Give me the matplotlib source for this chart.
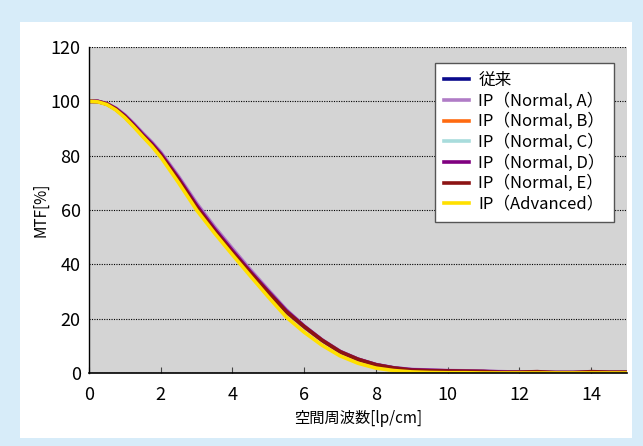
import matplotlib.pyplot as plt
import matplotlib.patches as mpatches

plt.rcParams['font.family'] = ['Noto Sans CJK JP', 'DejaVu Sans']

# spatial frequency [lp/cm]
freq = [0, 0.25, 0.5, 0.75, 1, 1.25, 1.5, 1.75, 2, 2.5, 3, 3.5, 4, 4.5, 5, 5.5, 6, 6.5, 7, 7.5,
        8, 8.5, 9, 9.5, 10, 10.5, 11, 11.5, 12, 12.5, 13, 13.5, 14, 14.5, 15]

# MTF [%]
mtf_conv = [100, 99.9, 99, 97.1, 94.4, 91, 87.4, 84, 80.2, 71, 61, 52.3, 44.3, 36.8, 29.5, 22.5, 17, 12, 7.8, 5,
            3, 1.8, 1.0, 0.8, 0.7, 0.6, 0.5, 0.3, 0.3, 0.3, 0.2, 0.2, 0.3, 0.2, 0.2]
mtf_a = [100, 100, 99.2, 97.5, 95, 91.8, 88.3, 85, 81.3, 72.3, 62.5, 53.8, 45.8, 38, 30.6, 23.3, 17.3, 12.2, 8, 5.1,
         3.1, 1.9, 1.3, 1.1, 0.9, 0.8, 0.6, 0.5, 0.3, 0.3, 0.2, 0.2, 0.3, 0.2, 0.2]
mtf_b = [100, 99.9, 99, 97.1, 94.4, 91, 87.4, 84, 80.2, 71, 61, 52.3, 44.3, 36.8, 29.5, 22.5, 17, 12, 7.8, 5,
         3, 1.8, 1.0, 0.8, 0.7, 0.6, 0.5, 0.3, 0.3, 0.3, 0.2, 0.2, 0.3, 0.2, 0.2]
mtf_c = [100, 99.9, 99, 97.1, 94.4, 91, 87.4, 84, 80.2, 71, 61, 52.3, 44.3, 36.8, 29.5, 22.5, 17, 12, 7.8, 5,
         3, 1.8, 1.0, 0.8, 0.7, 0.6, 0.5, 0.3, 0.3, 0.3, 0.2, 0.2, 0.3, 0.2, 0.2]
mtf_d = [100, 100, 99.1, 97.3, 94.7, 91.4, 87.8, 84.5, 80.7, 71.6, 61.7, 53, 45, 37.3, 30, 22.9, 17.2, 12.1, 7.9, 5.1,
         3.1, 1.9, 1.2, 1.0, 0.8, 0.7, 0.6, 0.4, 0.3, 0.3, 0.2, 0.2, 0.3, 0.2, 0.2]
mtf_e = [100, 99.9, 99, 97.1, 94.4, 91, 87.4, 84, 80.2, 71, 61, 52.3, 44.3, 36.8, 29.5, 22.5, 17, 12, 7.8, 5,
         3, 1.8, 1.0, 0.8, 0.7, 0.6, 0.5, 0.2, 0.3, 0.5, 0.1, 0.1, 0.5, 0.3, 0.3]
mtf_adv = [100, 99.8, 98.8, 96.8, 94, 90.6, 87, 83.5, 79.5, 70, 60, 51.5, 43.5, 35.7, 28, 20.6, 15, 10.2, 6.3, 3.6,
           1.8, 0.9, 0.4, 0.2, 0.1, 0.1, 0, 0, 0, 0, 0, 0, 0, 0, 0]

labels = ['従来', 'IP（Normal, A）', 'IP（Normal, B）', 'IP（Normal, C）',
          'IP（Normal, D）', 'IP（Normal, E）', 'IP（Advanced）']
series = [mtf_conv, mtf_a, mtf_b, mtf_c, mtf_d, mtf_e, mtf_adv]
colors = ['#0a0a8c', '#b07cc6', '#ff6a10', '#a8dcdc', '#800080', '#8c1414', '#ffe000']

W, H = 643, 446
fig = plt.figure(figsize=(W / 100, H / 100), dpi=100)
fig.patch.set_facecolor('#d7ecf9')
fig.patches.append(mpatches.Rectangle((20 / W, 1 - 438 / H), 612 / W, 416 / H,
                                      transform=fig.transFigure, facecolor='white',
                                      edgecolor='none', zorder=-10))

ax = fig.add_axes([89 / W, 1 - 373 / H, 538 / W, 326 / H])
ax.set_facecolor('#d4d4d4')

for y, lab, c in zip(series, labels, colors):
    ax.plot(freq, y, color=c, lw=2.6, label=lab, solid_joinstyle='round')

ax.set_xlim(0, 15)
ax.set_ylim(0, 120)
ax.set_xticks(range(0, 15, 2))
ax.set_yticks(range(0, 121, 20))
ax.yaxis.grid(True, color='black', linestyle=(0, (1, 1.2)), linewidth=0.8)
ax.set_axisbelow(True)
for s in ['top', 'right']:
    ax.spines[s].set_visible(False)
ax.spines['left'].set_linewidth(1)
ax.spines['bottom'].set_linewidth(1.2)
ax.tick_params(axis='x', direction='in', length=4, labelsize=13, pad=9, color='#444444')
ax.tick_params(axis='y', length=0, labelsize=13, pad=6)

ax.set_xlabel('空間周波数[lp/cm]', fontsize=11, labelpad=5)
ax.set_ylabel('MTF[%]', fontsize=11, labelpad=1)

leg = ax.legend(loc='upper right', bbox_to_anchor=(0.976, 0.951), fontsize=12,
                frameon=True, fancybox=False, edgecolor='#555555', framealpha=1,
                handlelength=1.5, labelspacing=0.2, borderpad=0.55, handletextpad=0.55,
                borderaxespad=0)
leg.get_frame().set_linewidth(1)

fig.savefig('out.png', dpi=100, facecolor=fig.get_facecolor())
